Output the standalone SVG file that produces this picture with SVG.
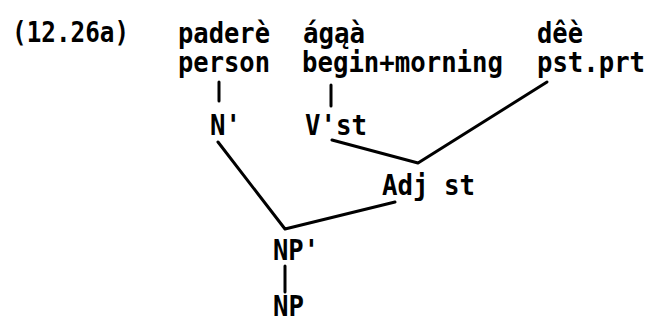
<svg xmlns="http://www.w3.org/2000/svg" width="649" height="322" viewBox="0 0 649 322">
<style>
text { font-family: "DejaVu Sans Mono", "Liberation Mono", monospace; font-weight: bold; font-size: 28px; fill: #000; }
.c line, .c polyline { stroke: #000; stroke-width: 3; fill: none; stroke-linecap: round; stroke-linejoin: round; }
</style>
<rect width="649" height="322" fill="#fff"/>
<g id="label"><text x="12" y="42" textLength="117" lengthAdjust="spacingAndGlyphs">(12.26a)</text></g>
<g id="padere">
<text x="178" y="43" textLength="92" lengthAdjust="spacingAndGlyphs">paderè</text>
<text x="178" y="72" textLength="92" lengthAdjust="spacingAndGlyphs">person</text>
</g>
<g id="agaa">
<text x="303" y="43" textLength="62" lengthAdjust="spacingAndGlyphs">ágąà</text>
<text x="302" y="72" textLength="201" lengthAdjust="spacingAndGlyphs">begin+morning</text>
</g>
<g id="dee">
<text x="537" y="43" textLength="46" lengthAdjust="spacingAndGlyphs">dêè</text>
<text x="537" y="72" textLength="108" lengthAdjust="spacingAndGlyphs">pst.prt</text>
</g>
<g id="Nbar"><text x="210" y="135" textLength="31" lengthAdjust="spacingAndGlyphs">N'</text></g>
<g id="Vst"><text x="305" y="135" textLength="62" lengthAdjust="spacingAndGlyphs">V'st</text></g>
<g id="Adjst"><text x="382" y="195" textLength="93" lengthAdjust="spacingAndGlyphs">Adj st</text></g>
<g id="NPbar"><text x="273" y="260" textLength="46" lengthAdjust="spacingAndGlyphs">NP'</text></g>
<g id="NP"><text x="273" y="316" textLength="31" lengthAdjust="spacingAndGlyphs">NP</text></g>
<g id="connectors" class="c">
<line x1="219" y1="82" x2="219" y2="101"/>
<line x1="331" y1="85" x2="331" y2="106"/>
<polyline points="218,142 285,229 395,202"/>
<polyline points="332,140 418,163 547,82"/>
<line x1="285" y1="266" x2="285" y2="292"/>
</g>
</svg>
